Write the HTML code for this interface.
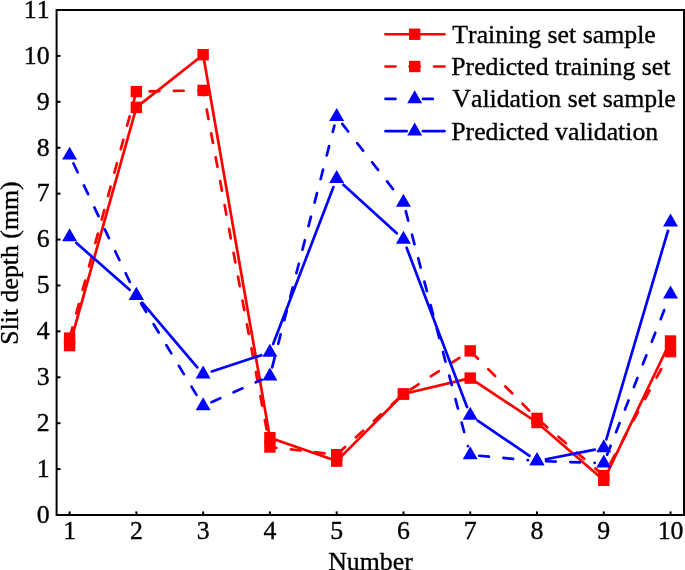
<!DOCTYPE html>
<html lang="en"><head><meta charset="utf-8"><title>Slit depth chart</title>
<style>html,body{margin:0;padding:0;background:#fff;}body{width:685px;height:570px;overflow:hidden;}svg{display:block;}text{font-family:"Liberation Serif","Times New Roman",serif;font-size:25.8px;fill:#000;font-kerning:none;stroke:#000;stroke-width:0.35px;}</style></head><body>
<svg width="685" height="570" viewBox="0 0 685 570">
<rect x="0" y="0" width="685" height="570" fill="#fff"/>
<polyline points="69.60,345.60 136.37,107.40 203.14,54.70 269.91,437.70 336.68,461.10 403.45,394.00 470.22,378.10 536.99,422.50 603.76,480.30 670.53,341.00" fill="none" stroke="#ff0000" stroke-width="2.7" stroke-linejoin="round"/>
<rect x="63.90" y="339.90" width="11.4" height="11.4" fill="#ff0000"/><rect x="130.67" y="101.70" width="11.4" height="11.4" fill="#ff0000"/><rect x="197.44" y="49.00" width="11.4" height="11.4" fill="#ff0000"/><rect x="264.21" y="432.00" width="11.4" height="11.4" fill="#ff0000"/><rect x="330.98" y="455.40" width="11.4" height="11.4" fill="#ff0000"/><rect x="397.75" y="388.30" width="11.4" height="11.4" fill="#ff0000"/><rect x="464.52" y="372.40" width="11.4" height="11.4" fill="#ff0000"/><rect x="531.29" y="416.80" width="11.4" height="11.4" fill="#ff0000"/><rect x="598.06" y="474.60" width="11.4" height="11.4" fill="#ff0000"/><rect x="664.83" y="335.30" width="11.4" height="11.4" fill="#ff0000"/>
<line x1="69.60" y1="338.10" x2="136.37" y2="91.60" stroke="#ff0000" stroke-width="2.7" stroke-linecap="round" stroke-dasharray="9.70 14.60" stroke-dashoffset="22.95"/><line x1="136.37" y1="91.60" x2="203.14" y2="90.40" stroke="#ff0000" stroke-width="2.7" stroke-linecap="round" stroke-dasharray="9.70 14.60" stroke-dashoffset="11.03"/><line x1="203.14" y1="90.40" x2="269.91" y2="447.00" stroke="#ff0000" stroke-width="2.7" stroke-linecap="round" stroke-dasharray="9.70 14.60" stroke-dashoffset="4.91"/><line x1="269.91" y1="447.00" x2="336.68" y2="454.70" stroke="#ff0000" stroke-width="2.7" stroke-linecap="round" stroke-dasharray="9.70 14.60" stroke-dashoffset="3.21"/><line x1="336.68" y1="454.70" x2="403.45" y2="394.00" stroke="#ff0000" stroke-width="2.7" stroke-linecap="round" stroke-dasharray="9.70 14.60" stroke-dashoffset="22.62"/><line x1="403.45" y1="394.00" x2="470.22" y2="350.90" stroke="#ff0000" stroke-width="2.7" stroke-linecap="round" stroke-dasharray="9.70 14.60" stroke-dashoffset="16.06"/><line x1="470.22" y1="350.90" x2="536.99" y2="418.40" stroke="#ff0000" stroke-width="2.7" stroke-linecap="round" stroke-dasharray="9.70 14.60" stroke-dashoffset="22.93"/><line x1="536.99" y1="418.40" x2="603.76" y2="475.60" stroke="#ff0000" stroke-width="2.7" stroke-linecap="round" stroke-dasharray="9.70 14.60" stroke-dashoffset="20.38"/><line x1="603.76" y1="475.60" x2="670.53" y2="351.60" stroke="#ff0000" stroke-width="2.7" stroke-linecap="round" stroke-dasharray="9.70 14.60" stroke-dashoffset="10.20"/>
<rect x="63.90" y="332.40" width="11.4" height="11.4" fill="#ff0000"/><rect x="130.67" y="85.90" width="11.4" height="11.4" fill="#ff0000"/><rect x="197.44" y="84.70" width="11.4" height="11.4" fill="#ff0000"/><rect x="264.21" y="441.30" width="11.4" height="11.4" fill="#ff0000"/><rect x="330.98" y="449.00" width="11.4" height="11.4" fill="#ff0000"/><rect x="397.75" y="388.30" width="11.4" height="11.4" fill="#ff0000"/><rect x="464.52" y="345.20" width="11.4" height="11.4" fill="#ff0000"/><rect x="531.29" y="412.70" width="11.4" height="11.4" fill="#ff0000"/><rect x="598.06" y="469.90" width="11.4" height="11.4" fill="#ff0000"/><rect x="664.83" y="345.90" width="11.4" height="11.4" fill="#ff0000"/>
<line x1="73.49" y1="163.47" x2="132.48" y2="287.58" stroke="#0000ff" stroke-width="2.7" stroke-linecap="round" stroke-dasharray="9.70 14.60"/><line x1="141.06" y1="303.49" x2="198.45" y2="398.11" stroke="#0000ff" stroke-width="2.7" stroke-linecap="round" stroke-dasharray="9.70 14.60"/><line x1="211.40" y1="402.16" x2="261.65" y2="379.74" stroke="#0000ff" stroke-width="2.7" stroke-linecap="round" stroke-dasharray="9.70 14.60"/><line x1="272.17" y1="367.29" x2="334.42" y2="125.51" stroke="#0000ff" stroke-width="2.7" stroke-linecap="round" stroke-dasharray="9.70 14.60"/><line x1="342.24" y1="123.89" x2="397.89" y2="195.31" stroke="#0000ff" stroke-width="2.7" stroke-linecap="round" stroke-dasharray="9.70 14.60"/><line x1="405.76" y1="211.20" x2="467.91" y2="446.20" stroke="#0000ff" stroke-width="2.7" stroke-linecap="round" stroke-dasharray="9.70 14.60"/><line x1="479.23" y1="455.76" x2="527.98" y2="460.14" stroke="#0000ff" stroke-width="2.7" stroke-linecap="round" stroke-dasharray="9.70 14.60"/><line x1="546.04" y1="461.25" x2="594.71" y2="462.85" stroke="#0000ff" stroke-width="2.7" stroke-linecap="round" stroke-dasharray="9.70 14.60"/><line x1="607.09" y1="454.73" x2="667.20" y2="302.67" stroke="#0000ff" stroke-width="2.7" stroke-linecap="round" stroke-dasharray="9.70 14.60"/>
<polygon points="69.60,146.65 77.09,159.62 62.11,159.62" fill="#0000ff"/><polygon points="136.37,287.10 143.86,300.07 128.88,300.07" fill="#0000ff"/><polygon points="203.14,397.20 210.63,410.18 195.65,410.18" fill="#0000ff"/><polygon points="269.91,367.40 277.40,380.38 262.42,380.38" fill="#0000ff"/><polygon points="336.68,108.10 344.17,121.08 329.19,121.08" fill="#0000ff"/><polygon points="403.45,193.80 410.94,206.77 395.96,206.77" fill="#0000ff"/><polygon points="470.22,446.30 477.71,459.27 462.73,459.27" fill="#0000ff"/><polygon points="536.99,452.30 544.48,465.27 529.50,465.27" fill="#0000ff"/><polygon points="603.76,454.50 611.25,467.47 596.27,467.47" fill="#0000ff"/><polygon points="670.53,285.60 678.02,298.57 663.04,298.57" fill="#0000ff"/>
<line x1="76.39" y1="242.93" x2="129.58" y2="289.77" stroke="#0000ff" stroke-width="2.7" stroke-linecap="round"/><line x1="142.23" y1="302.64" x2="197.28" y2="367.36" stroke="#0000ff" stroke-width="2.7" stroke-linecap="round"/><line x1="211.74" y1="371.43" x2="261.31" y2="355.17" stroke="#0000ff" stroke-width="2.7" stroke-linecap="round"/><line x1="273.16" y1="343.90" x2="333.43" y2="187.10" stroke="#0000ff" stroke-width="2.7" stroke-linecap="round"/><line x1="343.38" y1="184.74" x2="396.75" y2="233.26" stroke="#0000ff" stroke-width="2.7" stroke-linecap="round"/><line x1="406.66" y1="247.81" x2="467.01" y2="406.99" stroke="#0000ff" stroke-width="2.7" stroke-linecap="round"/><line x1="477.70" y1="420.55" x2="529.51" y2="455.85" stroke="#0000ff" stroke-width="2.7" stroke-linecap="round"/><line x1="545.87" y1="459.22" x2="594.88" y2="449.68" stroke="#0000ff" stroke-width="2.7" stroke-linecap="round"/><line x1="606.33" y1="439.27" x2="667.96" y2="230.83" stroke="#0000ff" stroke-width="2.7" stroke-linecap="round"/>
<polygon points="69.60,228.30 77.09,241.27 62.11,241.27" fill="#0000ff"/><polygon points="136.37,287.10 143.86,300.07 128.88,300.07" fill="#0000ff"/><polygon points="203.14,365.60 210.63,378.57 195.65,378.57" fill="#0000ff"/><polygon points="269.91,343.70 277.40,356.68 262.42,356.68" fill="#0000ff"/><polygon points="336.68,170.00 344.17,182.97 329.19,182.97" fill="#0000ff"/><polygon points="403.45,230.70 410.94,243.67 395.96,243.67" fill="#0000ff"/><polygon points="470.22,406.80 477.71,419.77 462.73,419.77" fill="#0000ff"/><polygon points="536.99,452.30 544.48,465.27 529.50,465.27" fill="#0000ff"/><polygon points="603.76,439.30 611.25,452.27 596.27,452.27" fill="#0000ff"/><polygon points="670.53,213.50 678.02,226.47 663.04,226.47" fill="#0000ff"/>
<rect x="56.6" y="10" width="627.4" height="505" fill="none" stroke="#000" stroke-width="2"/>
<line x1="56.6" y1="469.09" x2="60.5" y2="469.09" stroke="#000" stroke-width="2"/><line x1="56.6" y1="423.18" x2="60.5" y2="423.18" stroke="#000" stroke-width="2"/><line x1="56.6" y1="377.27" x2="60.5" y2="377.27" stroke="#000" stroke-width="2"/><line x1="56.6" y1="331.36" x2="60.5" y2="331.36" stroke="#000" stroke-width="2"/><line x1="56.6" y1="285.45" x2="60.5" y2="285.45" stroke="#000" stroke-width="2"/><line x1="56.6" y1="239.55" x2="60.5" y2="239.55" stroke="#000" stroke-width="2"/><line x1="56.6" y1="193.64" x2="60.5" y2="193.64" stroke="#000" stroke-width="2"/><line x1="56.6" y1="147.73" x2="60.5" y2="147.73" stroke="#000" stroke-width="2"/><line x1="56.6" y1="101.82" x2="60.5" y2="101.82" stroke="#000" stroke-width="2"/><line x1="56.6" y1="55.91" x2="60.5" y2="55.91" stroke="#000" stroke-width="2"/><line x1="69.60" y1="515" x2="69.60" y2="511.4" stroke="#000" stroke-width="2"/><line x1="136.37" y1="515" x2="136.37" y2="511.4" stroke="#000" stroke-width="2"/><line x1="203.14" y1="515" x2="203.14" y2="511.4" stroke="#000" stroke-width="2"/><line x1="269.91" y1="515" x2="269.91" y2="511.4" stroke="#000" stroke-width="2"/><line x1="336.68" y1="515" x2="336.68" y2="511.4" stroke="#000" stroke-width="2"/><line x1="403.45" y1="515" x2="403.45" y2="511.4" stroke="#000" stroke-width="2"/><line x1="470.22" y1="515" x2="470.22" y2="511.4" stroke="#000" stroke-width="2"/><line x1="536.99" y1="515" x2="536.99" y2="511.4" stroke="#000" stroke-width="2"/><line x1="603.76" y1="515" x2="603.76" y2="511.4" stroke="#000" stroke-width="2"/><line x1="670.53" y1="515" x2="670.53" y2="511.4" stroke="#000" stroke-width="2"/>
<text x="49.6" y="522.80" text-anchor="end">0</text><text x="49.6" y="476.89" text-anchor="end">1</text><text x="49.6" y="430.98" text-anchor="end">2</text><text x="49.6" y="385.07" text-anchor="end">3</text><text x="49.6" y="339.16" text-anchor="end">4</text><text x="49.6" y="293.25" text-anchor="end">5</text><text x="49.6" y="247.35" text-anchor="end">6</text><text x="49.6" y="201.44" text-anchor="end">7</text><text x="49.6" y="155.53" text-anchor="end">8</text><text x="49.6" y="109.62" text-anchor="end">9</text><text x="49.6" y="63.71" text-anchor="end">10</text><text x="49.6" y="17.80" text-anchor="end">11</text><text x="69.60" y="539.2" text-anchor="middle">1</text><text x="136.37" y="539.2" text-anchor="middle">2</text><text x="203.14" y="539.2" text-anchor="middle">3</text><text x="269.91" y="539.2" text-anchor="middle">4</text><text x="336.68" y="539.2" text-anchor="middle">5</text><text x="403.45" y="539.2" text-anchor="middle">6</text><text x="470.22" y="539.2" text-anchor="middle">7</text><text x="536.99" y="539.2" text-anchor="middle">8</text><text x="603.76" y="539.2" text-anchor="middle">9</text><text x="670.53" y="539.2" text-anchor="middle">10</text>
<text x="370.5" y="570" text-anchor="middle">Number</text>
<text transform="translate(17.5,263) rotate(-90)" text-anchor="middle">Slit depth (mm)</text>
<line x1="385.55" y1="34.25" x2="444.45" y2="34.25" stroke="#ff0000" stroke-width="2.7" stroke-linecap="round"/><rect x="409.00" y="28.55" width="11.4" height="11.4" fill="#ff0000"/>
<line x1="385.55" y1="66.5" x2="395.45" y2="66.5" stroke="#ff0000" stroke-width="2.7" stroke-linecap="round"/><line x1="409.55" y1="66.5" x2="419.95" y2="66.5" stroke="#ff0000" stroke-width="2.7" stroke-linecap="round"/><line x1="434.15" y1="66.5" x2="444.45" y2="66.5" stroke="#ff0000" stroke-width="2.7" stroke-linecap="round"/><rect x="409.00" y="60.80" width="11.4" height="11.4" fill="#ff0000"/>
<line x1="385.55" y1="98.9" x2="395.45" y2="98.9" stroke="#0000ff" stroke-width="2.7" stroke-linecap="round"/><line x1="422.95" y1="98.9" x2="432.85" y2="98.9" stroke="#0000ff" stroke-width="2.7" stroke-linecap="round"/><polygon points="414.70,90.25 422.19,103.23 407.21,103.23" fill="#0000ff"/>
<line x1="385.55" y1="131.2" x2="406.65" y2="131.2" stroke="#0000ff" stroke-width="2.7" stroke-linecap="round"/><line x1="422.95" y1="131.2" x2="444.45" y2="131.2" stroke="#0000ff" stroke-width="2.7" stroke-linecap="round"/><polygon points="414.70,122.55 422.19,135.52 407.21,135.52" fill="#0000ff"/>
<text x="452.3" y="42.55">Training set sample</text>
<text x="451.2" y="74.80">Predicted training set</text>
<text x="452.3" y="107.20">Validation set sample</text>
<text x="451.2" y="139.50">Predicted validation</text>
</svg></body></html>
